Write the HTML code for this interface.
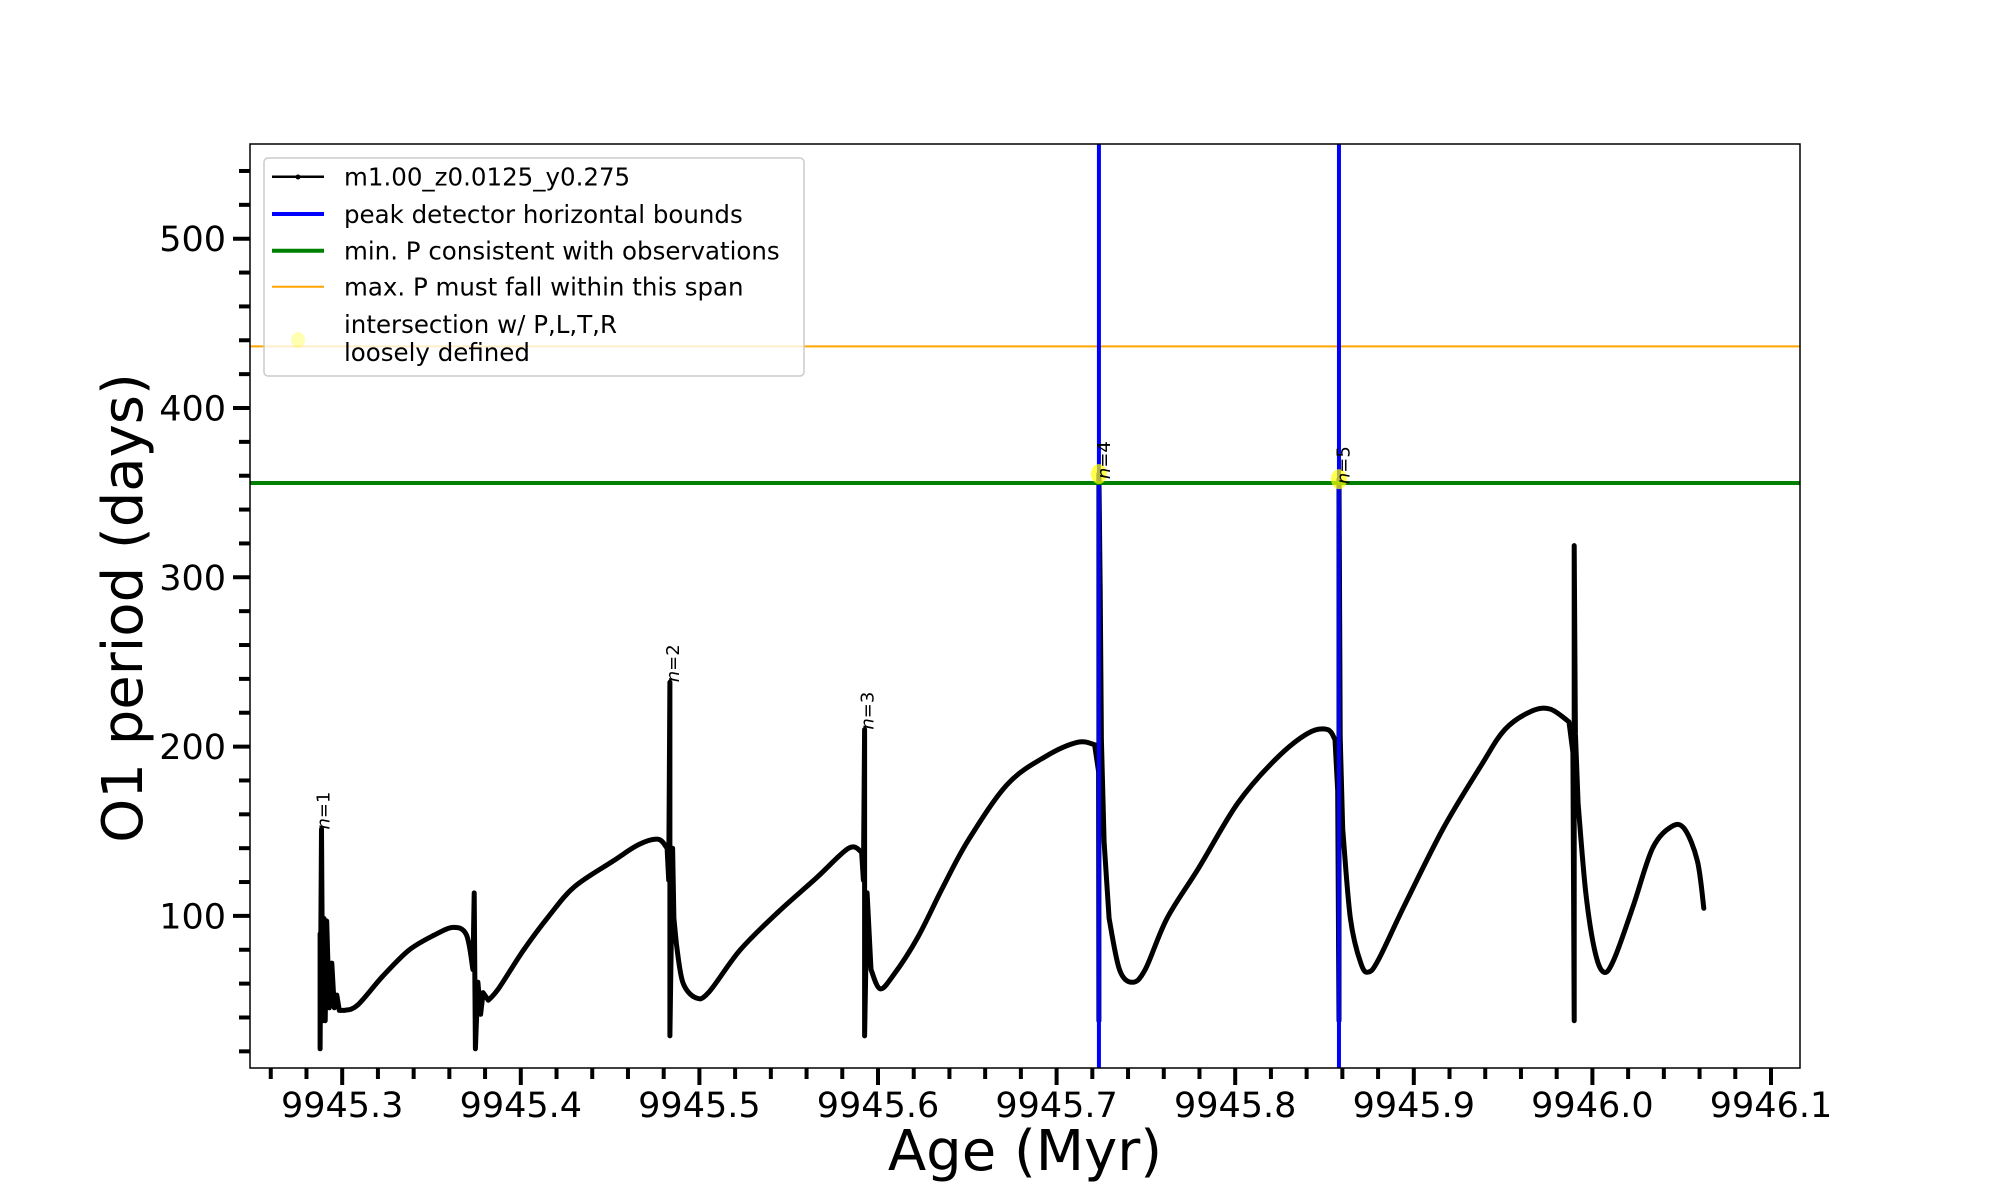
<!DOCTYPE html>
<html><head><meta charset="utf-8"><style>
html,body{margin:0;padding:0;background:#fff;}
svg{display:block;font-family:"DejaVu Sans","Liberation Sans",sans-serif;}
</style></head><body>
<svg id="chart" width="2000" height="1200" viewBox="0 0 2000 1200" xmlns="http://www.w3.org/2000/svg">
<rect width="2000" height="1200" fill="#fff"/>
<g id="plot"></g>
</svg>
<script>
const ages = [9945.2876,9945.2876,9945.2884,9945.2891,9945.2898,9945.2905,9945.2913,9945.2927,9945.2942,9945.2956,9945.2970,9945.2984,9945.3013,9945.3085,9945.3228,9945.3372,9945.3516,9945.3624,9945.3696,9945.3732,9945.3739,9945.3746,9945.3760,9945.3775,9945.3789,9945.3818,9945.3875,9945.4014,9945.4158,9945.4301,9945.4517,9945.4661,9945.4768,9945.4819,9945.4828,9945.4835,9945.4835,9945.4850,9945.4857,9945.4871,9945.4907,9945.4979,9945.5051,9945.5226,9945.5441,9945.5657,9945.5836,9945.5908,9945.5918,9945.5925,9945.5925,9945.5939,9945.5961,9945.6011,9945.6083,9945.6222,9945.6365,9945.6509,9945.6724,9945.6940,9945.7120,9945.7213,9945.7235,9945.7237,9945.7237,9945.7244,9945.7251,9945.7266,9945.7294,9945.7352,9945.7424,9945.7496,9945.7618,9945.7798,9945.8013,9945.8229,9945.8408,9945.8516,9945.8559,9945.8574,9945.8581,9945.8581,9945.8588,9945.8602,9945.8645,9945.8703,9945.8746,9945.8803,9945.8947,9945.9163,9945.9378,9945.9510,9945.9654,9945.9762,9945.9869,9945.9891,9945.9898,9945.9898,9945.9905,9945.9920,9945.9963,9946.0013,9946.0063,9946.0121,9946.0229,9946.0337,9946.0444,9946.0516,9946.0588,9946.0624];
const periods = [89.4,21.5,151.3,38.1,98.5,38.1,97.0,45.7,72.1,45.7,53.2,44.2,44.2,47.2,64.5,79.6,88.7,93.2,88.7,68.3,113.6,21.5,60.8,41.9,54.7,50.2,57.0,79.6,100.0,117.3,132.4,142.2,145.3,140.0,121.1,238.0,29.1,140.0,98.5,83.4,60.8,51.7,54.7,79.6,102.3,122.6,140.0,137.7,121.1,210.1,29.1,113.6,68.3,57.0,64.5,87.2,117.3,145.3,177.7,194.3,202.6,201.1,185.2,38.1,361.0,292.3,204.1,143.7,98.5,68.3,60.8,68.3,98.5,128.7,166.4,192.8,207.9,210.1,204.1,173.9,38.1,358.0,205.6,151.3,98.5,72.1,66.8,74.3,106.0,151.3,189.0,210.1,220.7,222.2,214.6,196.5,38.1,318.7,207.9,166.4,113.6,79.6,66.8,74.3,106.0,140.0,152.8,151.3,132.4,104.5];
const peakBounds = [9945.7237, 9945.8581];
const minP = [355.7];
const maxP = [436.4];
const dotAges = [9945.7237, 9945.8581];
const dotPeriods = [361, 358];
const nLabels = ["1","2","3","4","5"];
const nAges = [9945.2930, 9945.4885, 9945.5975, 9945.7300, 9945.8640];
const nPeriods = [151, 238, 210, 358, 355];
const xTicks = [9945.3,9945.4,9945.5,9945.6,9945.7,9945.8,9945.9,9946.0,9946.1];
const xTickLabels = ["9945.3","9945.4","9945.5","9945.6","9945.7","9945.8","9945.9","9946.0","9946.1"];
const yTicks = [100,200,300,400,500];
const yTickLabels = ["100","200","300","400","500"];

const L=250,R=1800,T=144,B=1068;
const X0=9945.3, XS=1786, XP0=342.2;
function xs(a){return XP0+(a-X0)*XS;}
function ys(p){return 238.7+(500-p)*1.693;}
const NS="http://www.w3.org/2000/svg";
const g=document.getElementById('plot');
function mk(tag,attrs,parent){const e=document.createElementNS(NS,tag);for(const k in attrs)e.setAttribute(k,attrs[k]);(parent||g).appendChild(e);return e;}

const clip=mk('clipPath',{id:'clipax'});mk('rect',{x:L,y:T,width:R-L,height:B-T},clip);
const inner=mk('g',{'clip-path':'url(#clipax)'});

let el=mk('line',{x1:L,x2:R,y1:ys(maxP[0]),y2:ys(maxP[0]),stroke:'#ffa500','stroke-width':2},inner);



// smooth curve (Catmull-Rom on wide segments, straight on spikes)
const P=ages.map((a,i)=>[xs(a),ys(periods[i])]);
const GAP=6;
function wide(i,j){return j>=0&&j<P.length&&i>=0&&i<P.length&&Math.abs(P[j][0]-P[i][0])>GAP;}
let d='M'+P[0][0].toFixed(1)+','+P[0][1].toFixed(1);
for(let i=0;i<P.length-1;i++){
  const p1=P[i],p2=P[i+1];
  if(!wide(i,i+1)){d+=' L'+p2[0].toFixed(1)+','+p2[1].toFixed(1);continue;}
  const p0=wide(i-1,i)?P[i-1]:p1;
  const p3=wide(i+1,i+2)?P[i+2]:p2;
  const c1=[p1[0]+(p2[0]-p0[0])/6,p1[1]+(p2[1]-p0[1])/6];
  const c2=[p2[0]-(p3[0]-p1[0])/6,p2[1]-(p3[1]-p1[1])/6];
  d+=' C'+c1[0].toFixed(1)+','+c1[1].toFixed(1)+' '+c2[0].toFixed(1)+','+c2[1].toFixed(1)+' '+p2[0].toFixed(1)+','+p2[1].toFixed(1);
}
el=mk('path',{d:d,fill:'none',stroke:'#000','stroke-width':5,'stroke-linejoin':'round','stroke-linecap':'round'},inner);



peakBounds.forEach(a=>{
  const l=mk('line',{x1:xs(a),x2:xs(a),y1:T,y2:B,stroke:'#0000ff','stroke-width':4},inner);
  
  
});
el=mk('line',{x1:L,x2:R,y1:ys(minP[0]),y2:ys(minP[0]),stroke:'#008000','stroke-width':4},inner);


dotAges.forEach((a,i)=>{
  const c=mk('ellipse',{cx:xs(a),cy:ys(dotPeriods[i]),rx:8,ry:10,fill:'#ffff00','fill-opacity':0.7},inner);
  
  
});
nLabels.forEach((n,i)=>{
  const x=xs(nAges[i]), y=ys(nPeriods[i]);
  const t=mk('text',{x:0,y:0,transform:`translate(${x},${y}) rotate(-90)`,'font-size':18,fill:'#000'});
  
  
  t.innerHTML='<tspan font-style="italic">n</tspan>='+n;
});

el=mk('rect',{x:L,y:T,width:R-L,height:B-T,fill:'none',stroke:'#000','stroke-width':1.5});



for(let k=-2;k<=40;k++){
  const a=X0+k*0.02; const x=xs(a);
  if(x<L-0.5||x>R+0.5) continue;
  const major=(k%5===0);
  const t=mk('line',{x1:x,x2:x,y1:B,y2:B+(major?17:11),stroke:'#000','stroke-width':4});
  
  
}
xTicks.forEach((a,i)=>{
  const t=mk('text',{x:xs(a),y:1117,'font-size':35,'text-anchor':'middle',fill:'#000'});
  
  
  t.textContent=xTickLabels[i];
});
for(let v=20;v<=560;v+=20){
  const y=ys(v); if(y<T-0.5||y>B+0.5) continue;
  const major=(v%100===0);
  const t=mk('line',{x1:L-(major?17:11),x2:L,y1:y,y2:y,stroke:'#000','stroke-width':4});
  
  
}
yTicks.forEach((v,i)=>{
  const t=mk('text',{x:226,y:ys(v)+12.5,'font-size':35,'text-anchor':'end',fill:'#000'});
  
  
  t.textContent=yTickLabels[i];
});
el=mk('text',{x:1025,y:1170,'font-size':56,'text-anchor':'middle',fill:'#000'});


el.textContent='Age (Myr)';
el=mk('text',{x:0,y:0,transform:'translate(142,608) rotate(-90)','font-size':56,'text-anchor':'middle',fill:'#000'});


el.textContent='O1 period (days)';

const lg=mk('g',{});


mk('rect',{x:264,y:158,width:540,height:218,rx:4,fill:'#fff','fill-opacity':0.8,stroke:'#cccccc','stroke-width':1.5},lg);
const rows=[[176.7,'#000',2.5,'m1.00_z0.0125_y0.275'],[214,'#0000ff',4,'peak detector horizontal bounds'],[250.7,'#008000',4,'min. P consistent with observations'],[286.7,'#ffa500',2,'max. P must fall within this span']];
rows.forEach(r=>{
  const e=mk('g',{},lg);
  
  
  mk('line',{x1:272,x2:324,y1:r[0],y2:r[0],stroke:r[1],'stroke-width':r[2]},e);
  const t=mk('text',{x:344,y:r[0]+9,'font-size':24.5,fill:'#000'},e);
  t.textContent=r[3];
});
mk('circle',{cx:298,cy:177,r:2.5,fill:'#000'},lg);
const e5=mk('g',{},lg);


mk('ellipse',{cx:298,cy:340,rx:7,ry:8,fill:'#ffff00','fill-opacity':0.3},e5);
let t5=mk('text',{x:344,y:333,'font-size':24.5,fill:'#000'},e5);t5.textContent='intersection w/ P,L,T,R';
t5=mk('text',{x:344,y:361,'font-size':24.5,fill:'#000'},e5);t5.textContent='loosely defined';
</script>
</body></html>
